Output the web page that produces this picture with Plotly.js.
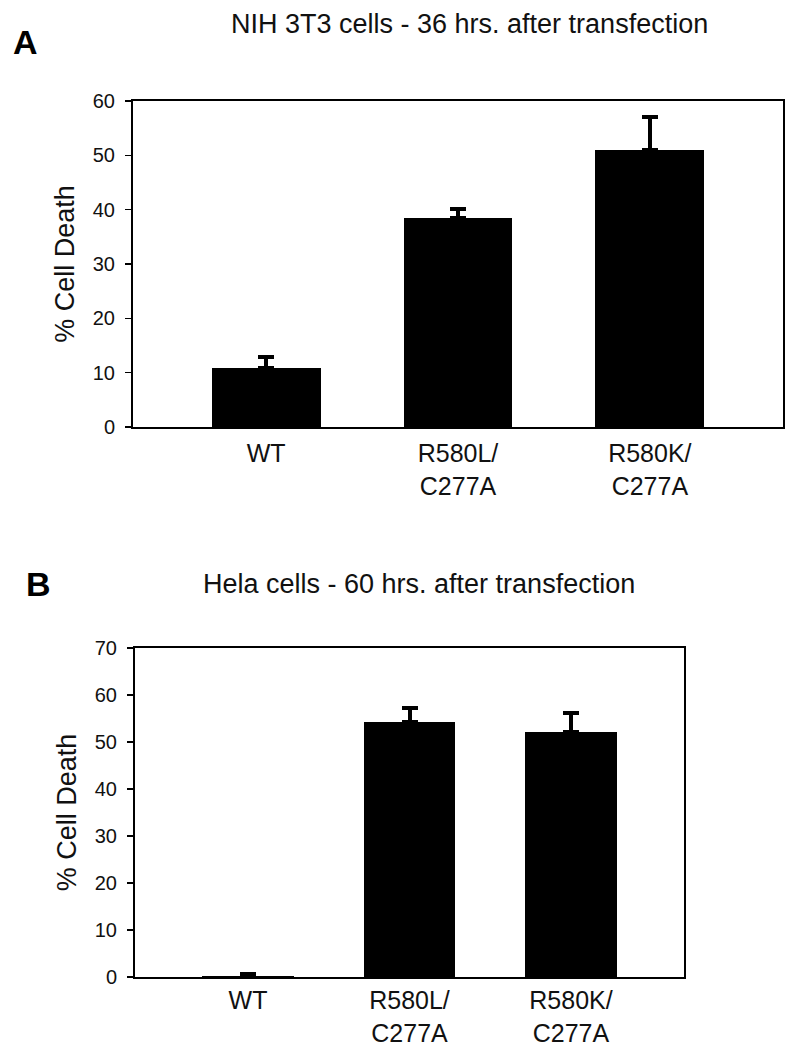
<!DOCTYPE html>
<html>
<head>
<meta charset="utf-8">
<script src="https://cdn.plot.ly/plotly-3.0.1.min.js"></script>
<style>
  html, body { margin: 0; padding: 0; background: #ffffff; }
  #chart { width: 800px; height: 1050px; }
</style>
</head>
<body>
<div id="chart"></div>
<script>
// ---- data ----
const categories = ['WT', 'R580L/<br>C277A', 'R580K/<br>C277A'];
const nihValues = [10.8, 38.4, 51.0];
const nihErrors = [2.1, 1.7, 6.0];
const helaValues = [0.3, 54.2, 52.2];
const helaErrors = [0.4, 3.0, 4.0];
const titleA = 'NIH 3T3 cells - 36 hrs. after transfection';
const titleB = 'Hela cells - 60 hrs. after transfection';
const yTitle = '% Cell Death';

const FONT = 'Liberation Sans, Arial, Helvetica, sans-serif';

function barTrace(vals, errs, xa, ya) {
  return {
    type: 'bar',
    x: categories,
    y: vals,
    xaxis: xa,
    yaxis: ya,
    width: 0.568,
    marker: { color: '#000000', line: { width: 0 } },
    error_y: {
      type: 'data',
      array: errs,
      arrayminus: errs.map(() => 0),
      symmetric: false,
      visible: true,
      color: '#000000',
      thickness: 4,
      width: 8
    },
    showlegend: false,
    hoverinfo: 'none'
  };
}

const data = [
  barTrace(nihValues, nihErrors, 'x', 'y'),
  barTrace(helaValues, helaErrors, 'x2', 'y2')
];

function xAxis(domain, anchor, range, standoff) {
  return {
    domain: domain,
    anchor: anchor,
    type: 'category',
    range: range,
    showline: true,
    linecolor: '#000000',
    linewidth: 2,
    mirror: true,
    ticks: '',
    showgrid: false,
    zeroline: false,
    tickfont: { family: FONT, size: 25, color: '#111111' },
    ticklabelstandoff: standoff,
    automargin: false
  };
}

function yAxis(domain, anchor, range) {
  return {
    domain: domain,
    anchor: anchor,
    range: range,
    dtick: 10,
    tick0: 0,
    showline: true,
    linecolor: '#000000',
    linewidth: 2,
    mirror: true,
    ticks: 'outside',
    ticklen: 6,
    tickwidth: 1.5,
    tickcolor: '#000000',
    showgrid: false,
    zeroline: false,
    tickfont: { family: FONT, size: 20, color: '#111111' },
    ticklabelstandoff: 6,
    title: { text: yTitle, font: { family: FONT, size: 27, color: '#111111' }, standoff: 10 },
    automargin: false
  };
}

const layout = {
  width: 800,
  height: 1050,
  margin: { l: 0, r: 0, t: 0, b: 0 },
  paper_bgcolor: '#ffffff',
  plot_bgcolor: '#ffffff',
  showlegend: false,
  bargap: 0,
  xaxis: xAxis([133 / 800, 783 / 800], 'y', [-0.694, 2.694], 3),
  yaxis: yAxis([1 - 427 / 1050, 1 - 101 / 1050], 'x', [0, 60]),
  xaxis2: xAxis([135 / 800, 684 / 800], 'y2', [-0.7, 2.7], 0),
  yaxis2: yAxis([1 - 977 / 1050, 1 - 648 / 1050], 'x2', [0, 70]),
  annotations: [
    { text: titleA, xref: 'paper', yref: 'paper', x: 469 / 800, y: 1 - 24 / 1050,
      xanchor: 'center', yanchor: 'middle', showarrow: false,
      font: { family: FONT, size: 27, color: '#111111' } },
    { text: '<b>A</b>', xref: 'paper', yref: 'paper', x: 25 / 800, y: 1 - 42 / 1050,
      xanchor: 'center', yanchor: 'middle', showarrow: false,
      font: { family: FONT, size: 34, color: '#000000' } },
    { text: titleB, xref: 'paper', yref: 'paper', x: 419 / 800, y: 1 - 584 / 1050,
      xanchor: 'center', yanchor: 'middle', showarrow: false,
      font: { family: FONT, size: 27, color: '#111111' } },
    { text: '<b>B</b>', xref: 'paper', yref: 'paper', x: 38 / 800, y: 1 - 584 / 1050,
      xanchor: 'center', yanchor: 'middle', showarrow: false,
      font: { family: FONT, size: 34, color: '#000000' } }
  ]
};

Plotly.newPlot('chart', data, layout, { staticPlot: true, displayModeBar: false });
</script>
</body>
</html>
